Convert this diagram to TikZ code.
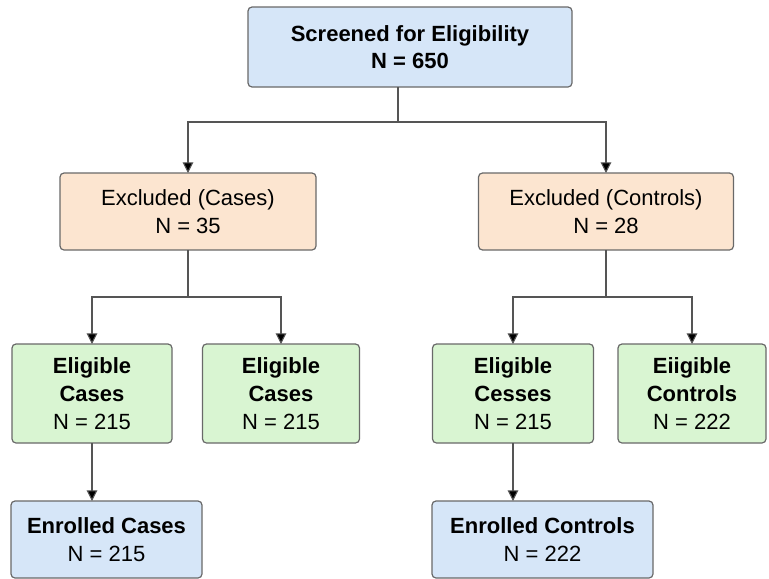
\documentclass[tikz,border=0pt]{standalone}
\usepackage{fontspec}
\setmainfont{Liberation Sans}
\usetikzlibrary{arrows.meta}

\definecolor{boxblue}{RGB}{214,230,248}
\definecolor{boxpeach}{RGB}{252,229,208}
\definecolor{boxgreen}{RGB}{217,245,210}
\definecolor{boxedge}{RGB}{105,105,105}
\definecolor{wire}{RGB}{85,85,85}

\begin{document}
\begin{tikzpicture}[x=0.75pt, y=-0.75pt,
    box/.style={draw=boxedge, line width=0.9pt, rounded corners=3pt, align=center,
        inner sep=2pt, outer sep=0pt, font=\fontsize{16.5}{20.8}\selectfont},
    screenbox/.style={box, fill=boxblue},
    exclbox/.style={box, fill=boxpeach, minimum height=57.75pt},
    eligbox/.style={box, fill=boxgreen, minimum height=74.25pt},
    enrolbox/.style={box, fill=boxblue, minimum height=57.75pt},
    wireline/.style={draw=wire, line width=0.8pt},
    arr/.style={wireline, -{Triangle[length=8pt, width=8pt, fill=black]}}]
    \useasboundingbox (0, 0) rectangle (769, 579);

    % Screening
    \node[screenbox, minimum width=243pt, minimum height=60pt] (screen) at (410, 47)
        {\textbf{Screened for Eligibility}\\ \textbf{N = 650}};

    % Exclusions
    \node[exclbox, minimum width=192pt] (exCases) at (188, 211.5) {Excluded (Cases)\\ N = 35};
    \node[exclbox, minimum width=191.25pt] (exCtrl) at (606, 211.5) {Excluded (Controls)\\ N = 28};

    % Eligible groups
    \node[eligbox, minimum width=120pt] (eligA) at (92, 393.5) {\textbf{Eligible}\\ \textbf{Cases}\\ N = 215};
    \node[eligbox, minimum width=117.75pt] (eligB) at (281, 393.5) {\textbf{Eligible}\\ \textbf{Cases}\\ N = 215};
    \node[eligbox, minimum width=120.75pt] (eligC) at (513, 393.5) {\textbf{Eligible}\\ \textbf{Cesses}\\ N = 215};
    \node[eligbox, minimum width=111pt] (eligD) at (692, 393.5) {\textbf{Eiigible}\\ \textbf{Controls}\\ N = 222};

    % Enrolment
    \node[enrolbox, minimum width=143.25pt] (enrCases) at (106.5, 539.5) {\textbf{Enrolled Cases}\\ N = 215};
    \node[enrolbox, minimum width=165.75pt] (enrCtrl) at (542.5, 539.5) {\textbf{Enrolled Controls}\\ N = 222};

    % Split points
    \coordinate (topSplit) at (398, 122);
    \coordinate (caseSplit) at (188, 297);
    \coordinate (ctrlSplit) at (606, 297);

    % Connectors
    \draw[wireline] (screen.south -| topSplit) -- (topSplit);
    \draw[arr] (topSplit) -| (exCases.north);
    \draw[arr] (topSplit) -| (exCtrl.north);

    \draw[wireline] (exCases.south) -- (caseSplit);
    \draw[arr] (caseSplit) -| (eligA.north);
    \draw[arr] (caseSplit) -| (eligB.north);

    \draw[wireline] (exCtrl.south) -- (ctrlSplit);
    \draw[arr] (ctrlSplit) -| (eligC.north);
    \draw[arr] (ctrlSplit) -| (eligD.north);

    \draw[arr] (eligA.south) -- (eligA.south |- enrCases.north);
    \draw[arr] (eligC.south) -- (eligC.south |- enrCtrl.north);
\end{tikzpicture}
\end{document}
